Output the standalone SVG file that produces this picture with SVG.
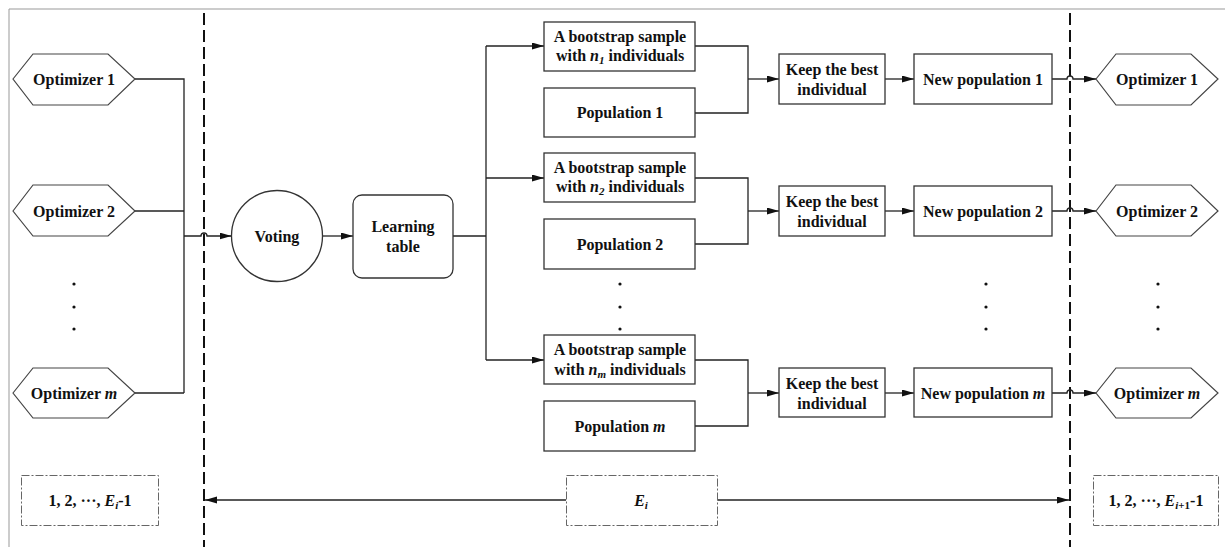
<svg xmlns="http://www.w3.org/2000/svg" width="1225" height="547" viewBox="0 0 1225 547">
<defs>
<marker id="ah" markerUnits="userSpaceOnUse" markerWidth="12" markerHeight="8" refX="12" refY="3.5" orient="auto">
<path d="M0,0 L12,3.5 L0,7 z" fill="#111"/>
</marker>
<style>
text{font-family:"Liberation Serif","Times New Roman",serif;font-weight:bold;font-size:16px;fill:#111;text-anchor:middle}
.it{font-style:italic}
.box{fill:#fff;stroke:#333;stroke-width:1.3}
.hex{fill:#fff;stroke:#444;stroke-width:1.2}
.dd{fill:#fff;stroke:#666;stroke-width:1;stroke-dasharray:8,2,2,2}
.ln{fill:none;stroke:#222;stroke-width:1.3}
.arr{fill:none;stroke:#222;stroke-width:1.3;marker-end:url(#ah)}
.dash{fill:none;stroke:#111;stroke-width:2;stroke-dasharray:12,5}
.dot{fill:#111}
</style>
</defs>
<rect width="1225" height="547" fill="#fff"/>
<path d="M9,547 V9 H1225" fill="none" stroke="#999" stroke-width="1"/>
<line class="dash" x1="204" y1="13" x2="204" y2="547"/>
<line class="dash" x1="1070" y1="13" x2="1070" y2="547"/>

<g id="connectors">
<path class="ln" d="M135,79 H184 V393"/>
<path class="ln" d="M135,211 H184"/>
<path class="ln" d="M135,393 H184"/>
<path class="arr" d="M184,236 H201 a3,3 0 0 1 6,0 H231.5"/>
<path class="arr" d="M323,236 H353"/>
<path class="ln" d="M453,236 H486"/>
<path class="ln" d="M486,46 V360"/>
<path class="arr" d="M486,46 H544"/>
<path class="arr" d="M486,178 H544"/>
<path class="arr" d="M486,360 H544"/>
<path class="ln" d="M695,46 H748 V113 H695"/>
<path class="ln" d="M695,178 H748 V244 H695"/>
<path class="ln" d="M695,360 H748 V426 H695"/>
<path class="arr" d="M748,79 H779"/>
<path class="arr" d="M748,211 H779"/>
<path class="arr" d="M748,393 H779"/>
<path class="arr" d="M885,79 H914"/>
<path class="arr" d="M885,211 H914"/>
<path class="arr" d="M885,393 H914"/>
<path class="arr" d="M1052,79 H1067 a3,3 0 0 1 6,0 H1096"/>
<path class="arr" d="M1052,211 H1067 a3,3 0 0 1 6,0 H1096"/>
<path class="arr" d="M1052,393 H1067 a3,3 0 0 1 6,0 H1096"/>
<path class="arr" d="M566,500 H205"/>
<path class="arr" d="M717,500 H1069"/>
</g>

<g id="opt1-left"><polygon class="hex" points="13,79 33,54 108,54 135,79 108,105 33,105"/><text x="74" y="85">Optimizer 1</text></g>
<g id="opt2-left"><polygon class="hex" points="13,211 33,185 108,185 135,211 108,236 33,236"/><text x="74" y="217">Optimizer 2</text></g>
<g id="optm-left"><polygon class="hex" points="13,393 33,368 108,368 135,393 108,418 33,418"/><text x="74" y="399">Optimizer <tspan class="it">m</tspan></text></g>
<g id="dots-left"><circle class="dot" cx="74" cy="284" r="1.6"/><circle class="dot" cx="74" cy="307" r="1.6"/><circle class="dot" cx="74" cy="329" r="1.6"/></g>

<g id="voting"><circle class="box" cx="277" cy="236" r="45.5"/><text x="277" y="242">Voting</text></g>
<g id="learning"><rect class="box" x="353" y="195" width="100" height="83" rx="9"/><text x="403" y="232">Learning</text><text x="403" y="252">table</text></g>

<g id="boot1"><rect class="box" x="544" y="22" width="151" height="49"/><text x="620" y="42">A bootstrap sample</text><text x="620" y="61">with <tspan class="it">n</tspan><tspan class="it" font-size="11" dy="3">1</tspan><tspan dy="-3"> individuals</tspan></text></g>
<g id="pop1"><rect class="box" x="544" y="88" width="151" height="49"/><text x="620" y="118">Population 1</text></g>
<g id="boot2"><rect class="box" x="544" y="153" width="151" height="49"/><text x="620" y="173">A bootstrap sample</text><text x="620" y="192">with <tspan class="it">n</tspan><tspan class="it" font-size="11" dy="3">2</tspan><tspan dy="-3"> individuals</tspan></text></g>
<g id="pop2"><rect class="box" x="544" y="219" width="151" height="50"/><text x="620" y="250">Population 2</text></g>
<g id="dots-mid"><circle class="dot" cx="620" cy="284" r="1.6"/><circle class="dot" cx="620" cy="307" r="1.6"/><circle class="dot" cx="620" cy="329" r="1.6"/></g>
<g id="bootm"><rect class="box" x="544" y="335" width="151" height="49"/><text x="620" y="355">A bootstrap sample</text><text x="620" y="375">with <tspan class="it">n</tspan><tspan class="it" font-size="11" dy="3">m</tspan><tspan dy="-3"> individuals</tspan></text></g>
<g id="popm"><rect class="box" x="544" y="401" width="151" height="50"/><text x="620" y="432">Population <tspan class="it">m</tspan></text></g>

<g id="keep1"><rect class="box" x="779" y="54" width="106" height="50"/><text x="832" y="75">Keep the best</text><text x="832" y="95">individual</text></g>
<g id="keep2"><rect class="box" x="779" y="186" width="106" height="50"/><text x="832" y="207">Keep the best</text><text x="832" y="227">individual</text></g>
<g id="keepm"><rect class="box" x="779" y="368" width="106" height="49"/><text x="832" y="389">Keep the best</text><text x="832" y="409">individual</text></g>

<g id="newpop1"><rect class="box" x="914" y="54" width="138" height="50"/><text x="983" y="85">New population 1</text></g>
<g id="newpop2"><rect class="box" x="914" y="186" width="138" height="50"/><text x="983" y="217">New population 2</text></g>
<g id="newpopm"><rect class="box" x="914" y="368" width="138" height="49"/><text x="983" y="399">New population <tspan class="it">m</tspan></text></g>
<g id="dots-newpop"><circle class="dot" cx="986" cy="284" r="1.6"/><circle class="dot" cx="986" cy="307" r="1.6"/><circle class="dot" cx="986" cy="329" r="1.6"/></g>

<g id="opt1-right"><polygon class="hex" points="1096,79 1116,54 1191,54 1218,79 1191,105 1116,105"/><text x="1157" y="85">Optimizer 1</text></g>
<g id="opt2-right"><polygon class="hex" points="1096,211 1116,185 1191,185 1218,211 1191,236 1116,236"/><text x="1157" y="217">Optimizer 2</text></g>
<g id="optm-right"><polygon class="hex" points="1096,393 1116,368 1191,368 1218,393 1191,418 1116,418"/><text x="1157" y="399">Optimizer <tspan class="it">m</tspan></text></g>
<g id="dots-right"><circle class="dot" cx="1158" cy="284" r="1.6"/><circle class="dot" cx="1158" cy="307" r="1.6"/><circle class="dot" cx="1158" cy="329" r="1.6"/></g>

<g id="prev-gen"><rect class="dd" x="21.5" y="475.5" width="137" height="50"/><text x="90" y="506">1, 2, ···, <tspan class="it">E</tspan><tspan class="it" font-size="11" dy="3">i</tspan><tspan dy="-3">-1</tspan></text></g>
<g id="cur-gen"><rect class="dd" x="566.5" y="475.5" width="151" height="50"/><text x="641" y="506"><tspan class="it">E</tspan><tspan class="it" font-size="11" dy="3">i</tspan></text></g>
<g id="next-gen"><rect class="dd" x="1093.5" y="475.5" width="125" height="50"/><text x="1156" y="506">1, 2, ···, <tspan class="it">E</tspan><tspan font-size="11" dy="3"><tspan class="it">i</tspan>+1</tspan><tspan dy="-3">-1</tspan></text></g>
</svg>
